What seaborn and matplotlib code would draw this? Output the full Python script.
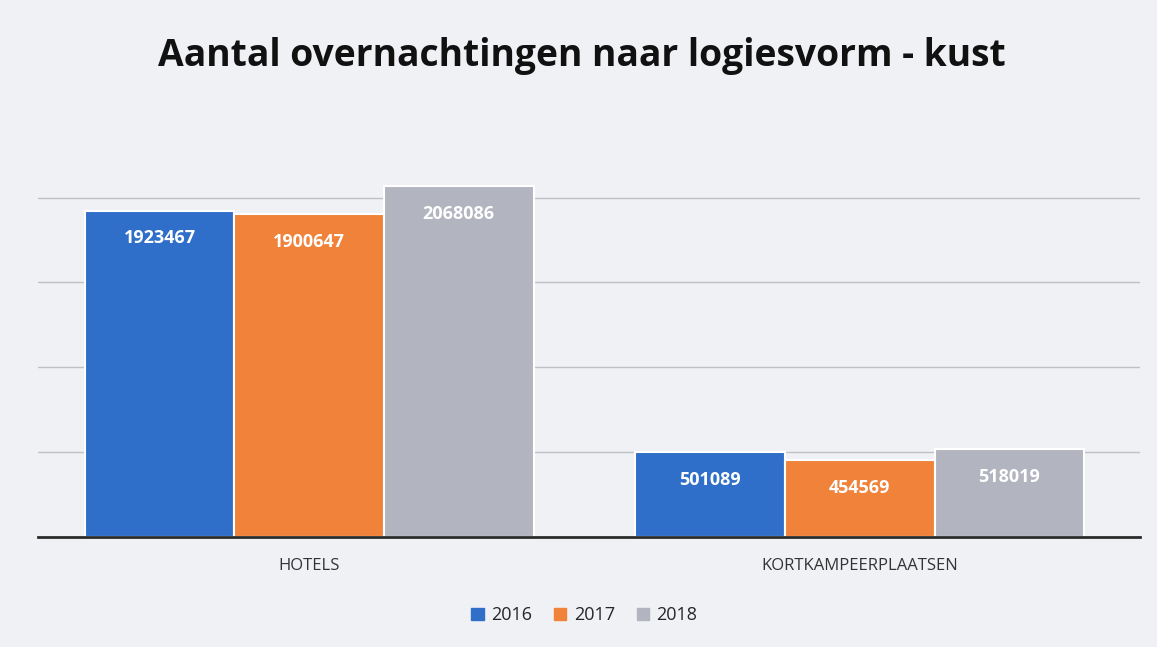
import matplotlib
matplotlib.use("Agg")
import matplotlib.pyplot as plt
import seaborn as sns
import pandas as pd

logiesvormen = ["HOTELS", "KORTKAMPEERPLAATSEN"]
jaren = ["2016", "2017", "2018"]
overnachtingen_2016 = [1923467, 501089]
overnachtingen_2017 = [1900647, 454569]
overnachtingen_2018 = [2068086, 518019]
kleuren = ["#2F6FC9", "#F0823A", "#B2B4C0"]

rows = []
for jaar, vals in zip(jaren, [overnachtingen_2016, overnachtingen_2017, overnachtingen_2018]):
    for lv, v in zip(logiesvormen, vals):
        rows.append({"logiesvorm": lv, "jaar": jaar, "overnachtingen": v})
df = pd.DataFrame(rows)

sns.set_theme(style="white")
plt.rcParams["font.family"] = ["Open Sans", "DejaVu Sans"]

fig = plt.figure(figsize=(11.57, 6.47), dpi=100, facecolor="#F0F1F5")
ax = fig.add_axes([0.033, 0.170, 0.952, 0.577])
ax.set_facecolor("none")

sns.barplot(data=df, x="logiesvorm", y="overnachtingen", hue="jaar",
            palette=kleuren, saturation=1, width=0.815, edgecolor="white",
            linewidth=1.5, ax=ax, legend=False)

ax.set_xlim(-0.492, 1.508)
ax.set_ylim(0, 2200000)
ax.set_yticks([500000, 1000000, 1500000, 2000000])
ax.yaxis.grid(True, color="#BFC0C6", linewidth=1)
ax.set_axisbelow(True)
ax.set_yticklabels([])
ax.tick_params(axis="y", length=0)
ax.tick_params(axis="x", length=0, pad=15, labelsize=12, labelcolor="#333333")
ax.set_xlabel("")
ax.set_ylabel("")
for s in ["top", "right", "left"]:
    ax.spines[s].set_visible(False)
ax.spines["bottom"].set_color("#2B2B2B")
ax.spines["bottom"].set_linewidth(2)

for cont in ax.containers:
    for bar in cont:
        h = bar.get_height()
        ax.annotate(f"{int(h)}", xy=(bar.get_x() + bar.get_width() / 2, h),
                    xytext=(0, -20), textcoords="offset points",
                    ha="center", va="center", color="white",
                    fontsize=13, fontweight="bold")

fig.text(0.503, 0.913, "Aantal overnachtingen naar logiesvorm - kust",
         ha="center", va="center", fontsize=26.8, fontweight="bold", color="#111111")

handles = [plt.Rectangle((0, 0), 1, 1, color=c) for c in kleuren]
fig.legend(handles, jaren, loc="center", bbox_to_anchor=(0.505, 0.049), ncol=3,
           frameon=False, fontsize=13, handlelength=0.7, handleheight=0.7,
           handletextpad=0.4, columnspacing=1.2)

fig.savefig("out.png", dpi=100, facecolor=fig.get_facecolor())
